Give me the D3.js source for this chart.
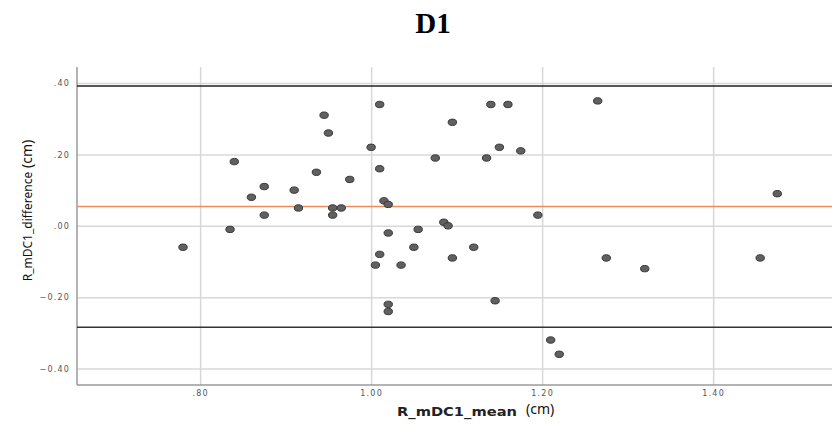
<!DOCTYPE html>
<html>
<head>
<meta charset="utf-8">
<script src="https://cdn.jsdelivr.net/npm/d3@7"></script>
<style>
  html, body { margin: 0; padding: 0; background: #fff; }
  svg { display: block; }
</style>
</head>
<body>
<div id="chart"></div>
<script>
// Bland-Altman data
const meanValues = [0.780, 0.835, 0.840, 0.860, 0.875, 0.875, 0.910, 0.915, 0.936, 0.945,
  0.950, 0.955, 0.955, 0.965, 0.975, 1.000, 1.010, 1.010, 1.015, 1.020,
  1.020, 1.010, 1.005, 1.020, 1.020, 1.035, 1.050, 1.055, 1.075, 1.085,
  1.090, 1.095, 1.095, 1.120, 1.135, 1.140, 1.145, 1.150, 1.160, 1.175,
  1.195, 1.210, 1.220, 1.265, 1.275, 1.320, 1.455, 1.475];
const diffValues = [-0.06, -0.01, 0.18, 0.08, 0.11, 0.03, 0.10, 0.05, 0.15, 0.31,
  0.26, 0.05, 0.03, 0.05, 0.13, 0.22, 0.34, 0.16, 0.07, 0.06,
  -0.02, -0.08, -0.11, -0.22, -0.24, -0.11, -0.06, -0.01, 0.19, 0.01,
  0.00, 0.29, -0.09, -0.06, 0.19, 0.34, -0.21, 0.22, 0.34, 0.21,
  0.03, -0.32, -0.36, 0.35, -0.09, -0.12, -0.09, 0.09];
const meanDiff = 0.054;
const upperLoA = 0.392;
const lowerLoA = -0.284;
const xTicks = [0.8, 1.0, 1.2, 1.4];
const yTicks = [-0.4, -0.2, 0.0, 0.2, 0.4];

const W = 832, H = 424;
const plot = { left: 77, right: 832, top: 67, bottom: 385 };

const svg = d3.select("#chart").append("svg")
  .attr("width", W)
  .attr("height", H);

const x = d3.scaleLinear().domain([0.656, 1.539]).range([plot.left, plot.right]);
const y = d3.scaleLinear().domain([-0.446, 0.445]).range([plot.bottom, plot.top]);

// SPSS style: no leading zero
const fmt = v => d3.format(".2f")(v).replace(/^(-?)0\./, "$1.");

// gridlines + tick labels
const gx = svg.append("g")
  .attr("transform", `translate(0,${plot.bottom})`)
  .call(d3.axisBottom(x).tickValues(xTicks).tickFormat(fmt)
    .tickSize(-(plot.bottom - plot.top)).tickPadding(5));

const gy = svg.append("g")
  .attr("transform", `translate(${plot.left},0)`)
  .call(d3.axisLeft(y).tickValues(yTicks).tickFormat(fmt)
    .tickSize(-(plot.right - plot.left)).tickPadding(7));

[gx, gy].forEach(g => {
  g.select(".domain").remove();
  g.selectAll(".tick line").attr("stroke", "#d8d8d8").attr("stroke-width", 1.5);
  g.selectAll(".tick text")
    .attr("fill", "#555")
    .style("font-family", "DejaVu Sans")
    .style("font-size", "8px")
    .style("letter-spacing", "1.2px");
});

// axis lines
svg.append("line")
  .attr("x1", plot.left).attr("x2", plot.left)
  .attr("y1", plot.top).attr("y2", plot.bottom)
  .attr("stroke", "#9a9a9a").attr("stroke-width", 1.5);
svg.append("line")
  .attr("x1", plot.left).attr("x2", plot.right)
  .attr("y1", plot.bottom).attr("y2", plot.bottom)
  .attr("stroke", "#9a9a9a").attr("stroke-width", 1.5);

// mean difference and limits of agreement
const refLines = [
  { v: upperLoA, c: "#222" },
  { v: lowerLoA, c: "#333" },
  { v: meanDiff, c: "#f28b5b" }
];
svg.selectAll("line.ref").data(refLines).enter().append("line")
  .attr("class", "ref")
  .attr("x1", plot.left).attr("x2", plot.right)
  .attr("y1", d => y(d.v)).attr("y2", d => y(d.v))
  .attr("stroke", d => d.c)
  .attr("stroke-width", 1.5);

// points
svg.selectAll("ellipse").data(meanValues).enter().append("ellipse")
  .attr("cx", d => x(d))
  .attr("cy", (d, i) => y(diffValues[i]))
  .attr("rx", 4.2).attr("ry", 3.2)
  .attr("fill", "#606060")
  .attr("stroke", "#383838")
  .attr("stroke-width", 1);

// titles
svg.append("text")
  .attr("x", 433).attr("y", 33)
  .attr("text-anchor", "middle")
  .style("font-family", "Liberation Serif")
  .style("font-weight", "bold")
  .style("font-size", "29px")
  .text("D1");

svg.append("text")
  .attr("x", 397).attr("y", 416)
  .attr("textLength", 120)
  .attr("lengthAdjust", "spacingAndGlyphs")
  .attr("fill", "#222")
  .style("font-family", "DejaVu Sans")
  .style("font-weight", "bold")
  .style("font-size", "11.5px")
  .text("R_mDC1_mean");

svg.append("text")
  .attr("x", 526).attr("y", 414)
  .attr("fill", "#111")
  .style("font-family", "Noto Sans")
  .style("font-size", "14px")
  .text("(cm)");

svg.append("text")
  .attr("transform", "translate(32,226.5) rotate(-90)")
  .attr("text-anchor", "middle")
  .attr("fill", "#111")
  .style("font-family", "Noto Sans")
  .style("font-size", "12px")
  .text("R_mDC1_difference");

svg.append("text")
  .attr("transform", "translate(32,168) rotate(-90)")
  .attr("fill", "#111")
  .style("font-family", "Noto Sans")
  .style("font-size", "14px")
  .text("(cm)");
</script>
</body>
</html>
